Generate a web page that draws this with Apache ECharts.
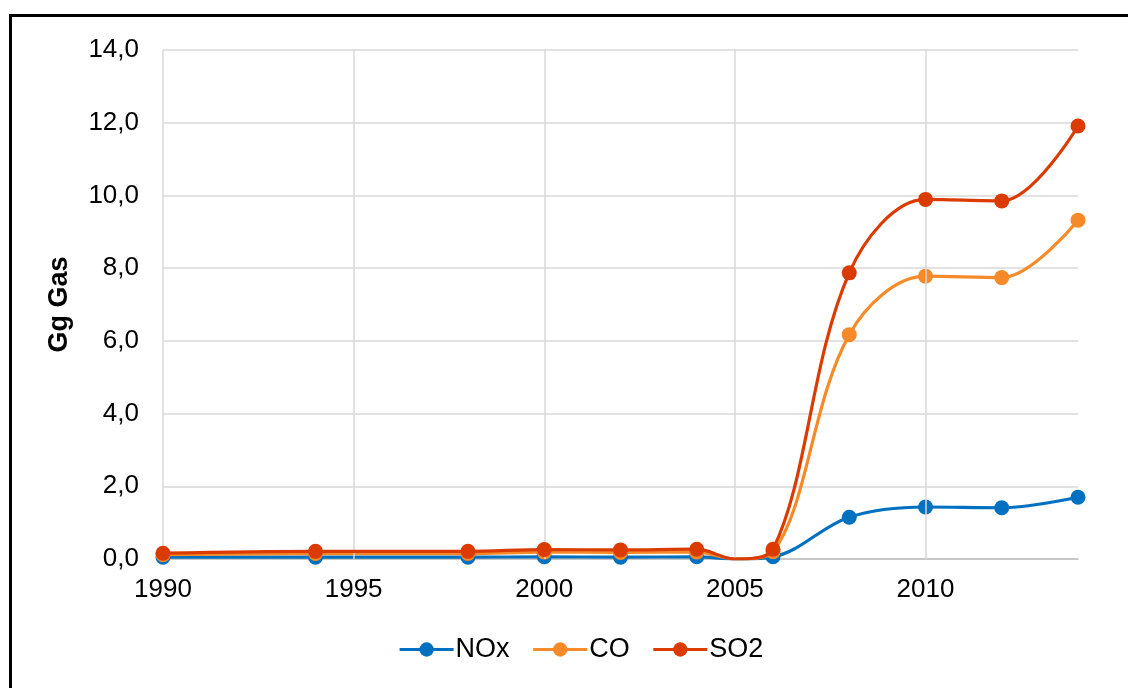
<!DOCTYPE html>
<html>
<head>
<meta charset="utf-8">
<script src="https://cdn.jsdelivr.net/npm/echarts@6/dist/echarts.min.js"></script>
<style>
  html, body { margin: 0; padding: 0; background: #fff; }
  #frame { position: absolute; left: 9px; top: 14px; width: 1200px; height: 800px; border: 3px solid #000; box-sizing: border-box; }
  #chart { position: absolute; left: 0; top: 0; width: 1128px; height: 688px; }
</style>
</head>
<body>
<div id="frame"></div>
<div id="chart"></div>
<script>
const years = [1990, 1994, 1998, 2000, 2002, 2004, 2005, 2006, 2008, 2010, 2012, 2014];
const nox   = [0.05, 0.05, 0.05, 0.06, 0.05, 0.06, 0.0, 0.06, 1.15, 1.43, 1.41, 1.70];
const co    = [0.12, 0.15, 0.15, 0.19, 0.18, 0.19, 0.0, 0.20, 6.17, 7.78, 7.74, 9.32];
const so2   = [0.16, 0.21, 0.21, 0.26, 0.25, 0.27, 0.0, 0.27, 7.87, 9.89, 9.85, 11.91];
const hiddenMarkerYears = [2005];
const xTicks = [1990, 1995, 2000, 2005, 2010];
const seriesNames = ['NOx', 'CO', 'SO2'];
const colors = ['#0070c0', '#f68a28', '#db3b00'];

const FONT = 'Liberation Sans, Arial, sans-serif';

function build(vals) {
  return years.map((y, i) => {
    const item = { value: [y, vals[i]] };
    if (hiddenMarkerYears.includes(y)) item.symbol = 'none';
    return item;
  });
}

const chart = echarts.init(document.getElementById('chart'));
const dataSets = [nox, co, so2];
const series = seriesNames.map((name, i) => ({
  name: name,
  type: 'line',
  data: build(dataSets[i]),
  smooth: 0.35,
  symbol: 'circle',
  symbolSize: 15,
  color: colors[i],
  lineStyle: { width: 3.2, color: colors[i] },
  itemStyle: { color: colors[i] },
  z: 3 + i
}));
series.push({
  name: 'grid',
  type: 'line',
  data: [],
  silent: true,
  z: 1,
  markLine: {
    silent: true,
    symbol: ['none', 'none'],
    label: { show: false },
    lineStyle: { color: '#d9d9d9', width: 1.5, type: 'solid' },
    data: xTicks.map(v => ({ xAxis: v }))
  }
});

chart.setOption({
  animation: false,
  backgroundColor: 'transparent',
  grid: { left: 163, right: 50, top: 50, bottom: 129 },
  xAxis: {
    type: 'value',
    min: 1990,
    max: 2014,
    interval: 5,
    axisLine: { show: true, lineStyle: { color: '#bfbfbf', width: 1.5 } },
    axisTick: { show: false },
    splitLine: { show: false },
    axisLabel: {
      color: '#000', fontFamily: FONT, fontSize: 26, margin: 18,
      showMaxLabel: false,
      formatter: v => (xTicks.includes(v) ? String(v) : '')
    }
  },
  yAxis: {
    type: 'value',
    min: 0,
    max: 14,
    interval: 2,
    name: 'Gg Gas',
    nameLocation: 'middle',
    nameGap: 90,
    nameRotate: 90,
    nameTextStyle: { color: '#000', fontFamily: FONT, fontSize: 27, fontWeight: 'bold' },
    axisLine: { show: false },
    axisTick: { show: false },
    splitLine: { show: true, lineStyle: { color: '#d9d9d9', width: 1.5 } },
    axisLabel: {
      color: '#000', fontFamily: FONT, fontSize: 26, margin: 24,
      formatter: v => v.toFixed(1).replace('.', ',')
    }
  },
  legend: {
    data: seriesNames,
    bottom: 20,
    left: 393,
    itemWidth: 54,
    itemHeight: 18,
    itemGap: 22,
    lineStyle: { width: 3.2 },
    textStyle: { color: '#000', fontFamily: FONT, fontSize: 27, padding: [0, 0, 0, -3] }
  },
  series: series
});
</script>
</body>
</html>
